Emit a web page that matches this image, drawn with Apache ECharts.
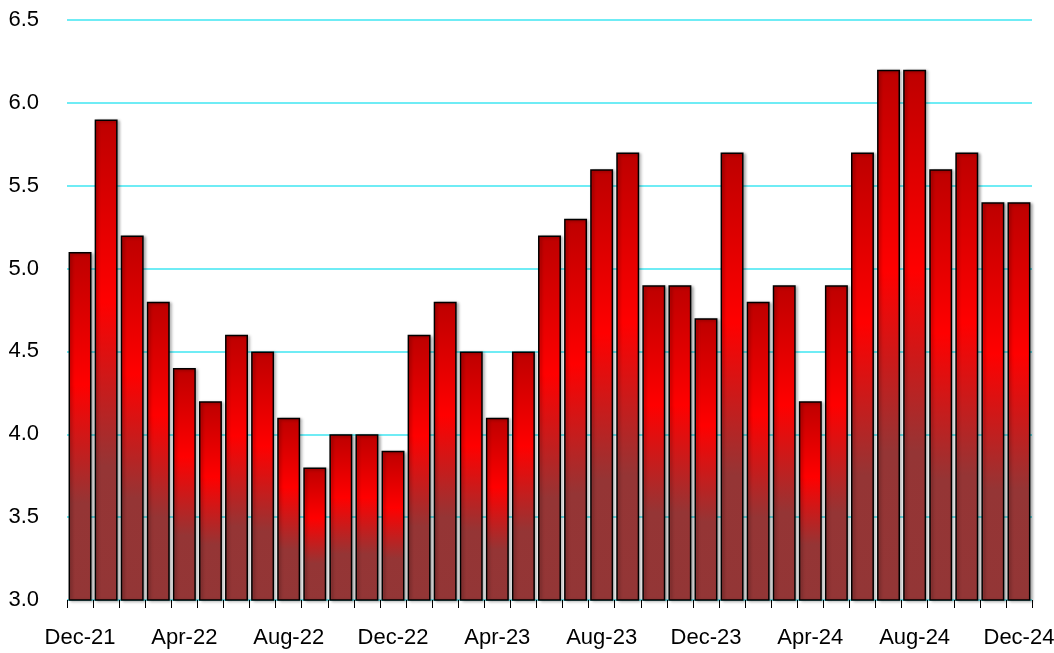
<!DOCTYPE html>
<html><head><meta charset="utf-8">
<script src="https://cdn.jsdelivr.net/npm/echarts@6/dist/echarts.min.js"></script>
<style>html,body{margin:0;padding:0;background:#fff}#c{width:1054px;height:653px}</style>
</head><body><div id="c"></div>
<script>
const categories = ['Dec-21','Jan-22','Feb-22','Mar-22','Apr-22','May-22','Jun-22','Jul-22','Aug-22','Sep-22','Oct-22','Nov-22',
'Dec-22','Jan-23','Feb-23','Mar-23','Apr-23','May-23','Jun-23','Jul-23','Aug-23','Sep-23','Oct-23','Nov-23',
'Dec-23','Jan-24','Feb-24','Mar-24','Apr-24','May-24','Jun-24','Jul-24','Aug-24','Sep-24','Oct-24','Nov-24','Dec-24'];
const values = [5.1,5.9,5.2,4.8,4.4,4.2,4.6,4.5,4.1,3.8,4.0,4.0,
3.9,4.6,4.8,4.5,4.1,4.5,5.2,5.3,5.6,5.7,4.9,4.9,
4.7,5.7,4.8,4.9,4.2,4.9,5.7,6.2,6.2,5.6,5.7,5.4,5.4];

const chart = echarts.init(document.getElementById('c'));
const font = '"Liberation Sans", Arial, sans-serif';
chart.setOption({
  animation: false,
  grid: {left: 67, right: 22, top: 20, bottom: 53, outerBoundsMode: 'none'},
  xAxis: {
    type: 'category', data: categories,
    axisLine: {show: false},
    axisTick: {show: true, interval: 0, length: 8, lineStyle: {color: '#000', width: 1}},
    axisLabel: {interval: 3, color: '#000', fontFamily: font, fontSize: 22, margin: 27}
  },
  yAxis: {
    type: 'value', min: 3, max: 6.5, interval: 0.5,
    axisLine: {show: false}, axisTick: {show: false},
    axisLabel: {color: '#000', fontFamily: font, fontSize: 22, margin: 28, padding: [5, 0, 0, 0], formatter: v => v.toFixed(1)},
    splitLine: {show: true, lineStyle: {color: '#3fe6f2', width: 1.5}}
  },
  series: [{
    type: 'bar', data: values, barCategoryGap: '12%',
    itemStyle: {
      borderColor: '#000', borderWidth: 1.5,
      shadowColor: 'rgba(0,0,0,0.3)', shadowBlur: 3, shadowOffsetX: 2, shadowOffsetY: 1,
      color: new echarts.graphic.LinearGradient(0, 0, 0, 1, [
        {offset: 0, color: '#bd0000'},
        {offset: 0.38, color: '#ff0000'},
        {offset: 0.72, color: '#953535'},
        {offset: 1, color: '#933636'}
      ])
    }
  }]
});
</script></body></html>
